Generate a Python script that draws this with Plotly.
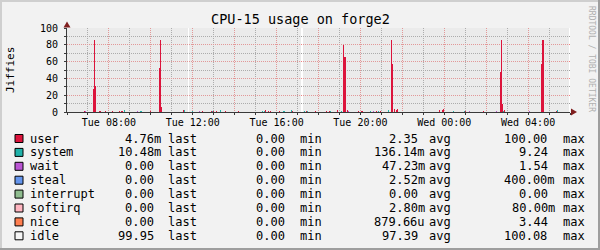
import plotly.graph_objects as go
from datetime import datetime, timedelta

# ---------------- data ----------------
START = datetime(2024, 1, 2, 6, 0)   # a Tuesday, 06:00
STEP_MIN = 3
N_STEPS = 480                         # 24 h of 3-minute samples
DAY_OFFSET = {"Tue": 0, "Wed": 1}

USER_T = ["Tue 06:48", "Tue 07:15", "Tue 07:18", "Tue 07:21", "Tue 07:33", "Tue 07:48", "Tue 08:09",
          "Tue 08:30", "Tue 08:36", "Tue 09:57", "Tue 10:24", "Tue 10:27", "Tue 10:30",
          "Tue 11:33", "Tue 12:27", "Tue 12:51", "Tue 12:57", "Tue 13:06", "Tue 13:33",
          "Tue 14:09", "Tue 15:27", "Tue 15:36", "Tue 15:42", "Tue 16:06", "Tue 16:45",
          "Tue 17:24", "Tue 17:51", "Tue 18:21", "Tue 18:30", "Tue 18:54", "Tue 19:09",
          "Tue 19:12", "Tue 19:15", "Tue 19:21", "Tue 19:54", "Tue 20:03", "Tue 20:45",
          "Tue 20:57", "Tue 21:27", "Tue 21:30", "Tue 21:36", "Tue 21:42", "Tue 21:45",
          "Tue 23:45", "Tue 23:54", "Tue 23:57", "Wed 01:00", "Wed 01:51", "Wed 02:39",
          "Wed 02:42", "Wed 02:45", "Wed 02:51", "Wed 04:36", "Wed 04:39", "Wed 04:42",
          "Wed 05:21"]
USER_V = [1.0, 27, 86, 31, 1.5, 1.5, 1.5,
          1.5, 1.5, 1.5, 52, 86, 6,
          2.5, 1.5, 1.5, 1.5, 1.5, 1.5,
          1.5, 2.0, 1.5, 1.5, 1.5, 1.5,
          1.5, 1.5, 1.5, 1.5, 2.5, 80,
          65, 65, 2.0, 1.5, 1.5, 1.5,
          1.5, 86, 57, 3.0, 2.5, 3.0,
          2.0, 2.5, 3.0, 1.5, 1.5, 48,
          86, 10, 2.5, 57, 86, 86,
          1.5]

SYSTEM_T = ["Tue 08:42", "Tue 09:30", "Tue 09:33", "Tue 11:36", "Tue 11:57", "Tue 12:54",
            "Tue 13:18", "Tue 15:18", "Tue 15:24", "Tue 16:18", "Tue 16:21", "Tue 16:42",
            "Tue 17:18", "Tue 17:27", "Tue 18:33", "Tue 19:03", "Tue 20:27", "Tue 20:51",
            "Tue 21:18", "Wed 00:24", "Wed 00:57", "Wed 02:48", "Wed 05:24"]
SYSTEM_V = [2.5, 1.5, 1.5, 2.0, 1.5, 1.5,
            2.5, 1.5, 1.5, 1.5, 1.5, 2.0,
            1.5, 1.5, 1.5, 1.5, 1.5, 1.5,
            2.5, 1.5, 1.5, 1.5, 2.5]

WAIT_T = ["Tue 06:51", "Tue 09:21", "Tue 12:18", "Tue 19:24", "Tue 20:36",
          "Wed 01:12", "Wed 02:27", "Wed 04:03"]
WAIT_V = [1.0, 1.0, 1.0, 1.0, 1.0, 1.0, 1.0, 1.0]

STEAL_T, STEAL_V = [], []
INTERRUPT_T, INTERRUPT_V = [], []
SOFTIRQ_T, SOFTIRQ_V = [], []
NICE_T, NICE_V = [], []

# samples with no data (unknown)
GAP_T = ["Tue 11:45", "Tue 17:09", "Tue 17:12", "Wed 05:57"]

X_TICKS = ["Tue 08:00", "Tue 10:00", "Tue 12:00", "Tue 14:00", "Tue 16:00", "Tue 18:00",
           "Tue 20:00", "Tue 22:00", "Wed 00:00", "Wed 02:00", "Wed 04:00"]
X_LABELS = ["Tue 08:00", "Tue 12:00", "Tue 16:00", "Tue 20:00", "Wed 00:00", "Wed 04:00"]
Y_TICKS = [0, 20, 40, 60, 80, 100]

NAMES = ["user", "system", "wait", "steal", "interrupt", "softirq", "nice", "idle"]
COLORS = ["#DC143C", "#20B2AA", "#BA55D3", "#6495ED", "#8FBC8F", "#FFB6C1", "#FF7F50", "#F5F5F5"]
LAST = ["4.76m", "10.48m", "0.00", "0.00", "0.00", "0.00", "0.00", "99.95"]
MIN = ["0.00", "0.00", "0.00", "0.00", "0.00", "0.00", "0.00", "0.00"]
AVG = ["2.35", "136.14m", "47.23m", "2.52m", "0.00", "2.80m", "879.66u", "97.39"]
MAX = ["100.00", "9.24", "1.54", "400.00m", "0.00", "80.00m", "3.44", "100.08"]

TITLE = "CPU-15 usage on forge2"
Y_TITLE = "Jiffies"
WATERMARK = "RRDTOOL / TOBI OETIKER"

# ---------------- helpers ----------------
W, H = 600, 250
FONT = "DejaVu Sans Mono"


def to_dt(s):
    day, hm = s.split()
    h, m = (int(v) for v in hm.split(":"))
    return START.replace(hour=0, minute=0) + timedelta(days=DAY_OFFSET[day], hours=h, minutes=m)


def idx(s):
    return int((to_dt(s) - START).total_seconds() // (STEP_MIN * 60))


def build(times, vals):
    arr = [0.0] * N_STEPS
    for t, v in zip(times, vals):
        arr[idx(t)] = v
    return arr


def px(x):
    return x / W


def py(y):
    return 1 - y / H


def rgba(hexcol, a):
    h = hexcol.lstrip("#")
    return f"rgba({int(h[0:2], 16)},{int(h[2:4], 16)},{int(h[4:6], 16)},{a})"


raw = [(USER_T, USER_V), (SYSTEM_T, SYSTEM_V), (WAIT_T, WAIT_V), (STEAL_T, STEAL_V),
       (INTERRUPT_T, INTERRUPT_V), (SOFTIRQ_T, SOFTIRQ_V), (NICE_T, NICE_V)]
series = [build(t, v) for t, v in raw]
gaps = {idx(t) for t in GAP_T}
for s in series:
    for g in gaps:
        s[g] = 0.0
idle = [0.0 if i in gaps else 100 - sum(s[i] for s in series) for i in range(N_STEPS)]
series.append(idle)

STEP_MS = STEP_MIN * 60 * 1000
xs = [START + timedelta(minutes=STEP_MIN * i + STEP_MIN / 2) for i in range(N_STEPS)]

fig = go.Figure()
for name, color, vals in zip(NAMES, COLORS, series):
    # alpha < 1 makes plotly snap bar edges to whole pixels (crisp, like rrdtool)
    fill = rgba(color, 0.999) if name != "idle" else "rgba(198,198,198,0.35)"
    fig.add_trace(go.Bar(
        x=xs, y=vals, name=name, width=STEP_MS,
        marker=dict(color=fill, line=dict(width=0)),
        hoverinfo="skip", showlegend=False))

PINK = "rgb(242,128,128)"
GRAY = "rgb(158,158,158)"
AXIS = "#3A3A3A"

fig.update_layout(
    width=W, height=H, margin=dict(l=0, r=0, t=0, b=0),
    barmode="stack", bargap=0, bargroupgap=0, showlegend=False,
    paper_bgcolor="#F2F2F2", plot_bgcolor="#FFFFFF",
    font=dict(family=FONT, size=10, color="#000000"),
    xaxis=dict(
        type="date", domain=[px(67), px(570)],
        range=[START, START + timedelta(minutes=STEP_MIN * N_STEPS)],
        tickmode="array", tickvals=[to_dt(t) for t in X_TICKS],
        ticktext=[t if t in X_LABELS else "" for t in X_TICKS],
        showgrid=True, gridcolor=PINK, gridwidth=1, griddash="1px,1px",
        ticks="outside", ticklen=2, tickcolor=AXIS,
        showline=True, linecolor=AXIS, linewidth=1, zeroline=False,
        tickfont=dict(family=FONT, size=10), automargin=False, fixedrange=True,
        ticklabelstandoff=-1,
        minor=dict(tickmode="linear", tick0=START, dtick=3600000, showgrid=True,
                   gridcolor=GRAY, gridwidth=1, griddash="1px,1px",
                   ticks="outside", ticklen=2, tickcolor=AXIS),
    ),
    yaxis=dict(
        domain=[py(112), py(28)], range=[0, 100],
        tickmode="array", tickvals=Y_TICKS,
        showgrid=True, gridcolor=PINK, gridwidth=1, griddash="1px,1px",
        ticks="outside", ticklen=2, tickcolor=AXIS,
        showline=True, linecolor=AXIS, linewidth=1, zeroline=False,
        tickfont=dict(family=FONT, size=10), automargin=False, fixedrange=True,
        ticklabelstandoff=4,
        minor=dict(tickmode="linear", tick0=0, dtick=10, showgrid=True,
                   gridcolor=GRAY, gridwidth=1, griddash="1px,1px",
                   ticks="outside", ticklen=2, tickcolor=AXIS),
    ),
)

shapes = []
ann = []

# arrows
ARROW = "#801F1F"
shapes.append(dict(type="path", xref="paper", yref="paper", layer="above",
                   path=f"M {px(67)},{py(21.5)} L {px(63.5)},{py(27.5)} L {px(70.5)},{py(27.5)} Z",
                   fillcolor=ARROW, line=dict(width=0)))
shapes.append(dict(type="path", xref="paper", yref="paper", layer="above",
                   path=f"M {px(577)},{py(112)} L {px(571)},{py(108.5)} L {px(571)},{py(115.5)} Z",
                   fillcolor=ARROW, line=dict(width=0)))

# frame shading
shapes += [
    dict(type="rect", xref="paper", yref="paper", x0=0, x1=1, y0=py(2), y1=1,
         fillcolor="#CFCFCF", line=dict(width=0), layer="above"),
    dict(type="rect", xref="paper", yref="paper", x0=0, x1=px(2), y0=0, y1=1,
         fillcolor="#CFCFCF", line=dict(width=0), layer="above"),
    dict(type="rect", xref="paper", yref="paper", x0=px(598), x1=1, y0=0, y1=1,
         fillcolor="#9E9E9E", line=dict(width=0), layer="above"),
    dict(type="rect", xref="paper", yref="paper", x0=0, x1=1, y0=0, y1=py(248),
         fillcolor="#9E9E9E", line=dict(width=0), layer="above"),
]

# title, axis label, watermark
ann.append(dict(text=TITLE, x=px(300), y=py(19), xref="paper", yref="paper", showarrow=False,
                xanchor="center", yanchor="middle", font=dict(family=FONT, size=13.5, color="#000")))
ann.append(dict(text=Y_TITLE, x=px(10), y=py(70), xref="paper", yref="paper", showarrow=False,
                textangle=-90, xanchor="center", yanchor="middle",
                font=dict(family=FONT, size=11, color="#000")))
ann.append(dict(text=WATERMARK, x=px(592), y=py(59), xref="paper", yref="paper", showarrow=False,
                textangle=90, xanchor="center", yanchor="middle",
                font=dict(family=FONT, size=8, color="#B0B0B0")))

# legend rows
NB = "\u00a0"


def val(s):
    return s if s[-1].isalpha() else s + NB


ROW0, ROWSTEP = 138.5, 13.9
LFONT = dict(family=FONT, size=12, color="#000")
for i, (name, color) in enumerate(zip(NAMES, COLORS)):
    cy = ROW0 + ROWSTEP * i
    shapes.append(dict(type="rect", xref="paper", yref="paper", layer="above",
                       x0=px(15), x1=px(23), y0=py(cy + 4), y1=py(cy - 4),
                       fillcolor=color, line=dict(color="#000", width=1)))
    items = [
        (name, 29, "left"),
        (val(LAST[i]), 162, "right"), ("last", 167, "left"),
        (val(MIN[i]), 293, "right"), ("min", 299, "left"),
        (val(AVG[i]), 426, "right"), ("avg", 428, "left"),
        (val(MAX[i]), 556, "right"), ("max", 562, "left"),
    ]
    for text, x, anchor in items:
        ann.append(dict(text=text, x=px(x), y=py(cy), xref="paper", yref="paper",
                        showarrow=False, xanchor=anchor, yanchor="middle",
                        borderpad=0, font=LFONT))

fig.update_layout(shapes=shapes, annotations=ann)
fig.write_html("out.html")
